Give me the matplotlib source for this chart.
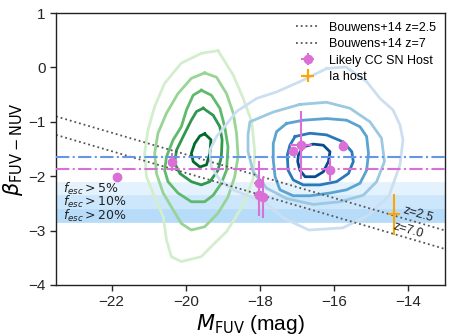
"""UV slope vs FUV magnitude: host galaxies over field-galaxy density contours."""
import numpy as np
import matplotlib
matplotlib.use("Agg")
import matplotlib.pyplot as plt

plt.rcParams['font.family'] = ['Liberation Sans', 'DejaVu Sans']
plt.rcParams['mathtext.fontset'] = 'dejavusans'

# ---- data ----
# likely core-collapse SN hosts
cc_M = [-21.86, -20.37, -18.02, -18.02, -17.91, -17.10, -16.89, -16.11, -15.75]
cc_beta = [-2.01, -1.74, -2.12, -2.34, -2.39, -1.54, -1.43, -1.89, -1.44]
cc_Merr = [0.03, 0.09, 0.14, 0.14, 0.14, 0.04, 0.29, 0.05, 0.05]
cc_berr = [0.03, 0.17, 0.40, 0.40, 0.38, 0.04, 0.63, 0.20, 0.10]

# Ia host
ia_M = [-14.38]
ia_beta = [-2.70]
ia_Merr = [0.14]
ia_berr = [0.38]

# Bouwens+14 beta-M relations: slope, beta at M=-19.5
bouwens_labels = ["Bouwens+14 z=2.5", "Bouwens+14 z=7"]
bouwens_tags = ["z=2.5", "z=7.0"]
bouwens_tag_M = [-14.17, -14.45]
bouwens_slope = [-0.20, -0.20]
bouwens_b0 = [-1.70, -2.04]

# horizontal reference levels
beta_blue = -1.64
beta_pink = -1.86

# escape-fraction bands: lower edge shared, upper edges
fesc_bottom = -2.84
fesc_tops = [-2.11, -2.35, -2.60]
fesc_labels = [r"$f_{esc}>5\%$", r"$f_{esc}>10\%$", r"$f_{esc}>20\%$"]

# density contours (outer -> inner), vertices
green_M = [
    [-19.13, -18.72, -18.45, -18.22, -18.14, -18.18, -18.45, -18.90, -19.22, -19.58,
     -20.12, -20.39, -20.52, -20.61, -20.84, -21.06, -21.11, -21.02, -20.84, -20.57,
     -20.12, -19.58],
    [-19.49, -19.17, -18.90, -18.72, -18.63, -18.59, -18.68, -18.86, -19.13, -19.49,
     -19.85, -20.12, -20.34, -20.61, -20.79, -20.84, -20.75, -20.52, -20.21, -19.85],
    [-19.58, -19.31, -19.08, -18.95, -18.86, -18.90, -19.04, -19.26, -19.49, -19.85,
     -20.21, -20.48, -20.57, -20.52, -20.34, -20.12, -19.98, -19.80],
    [-19.53, -19.26, -19.08, -19.02, -19.04, -19.13, -19.35, -19.58, -19.85, -20.16,
     -20.30, -20.25, -20.07, -19.85, -19.71],
    [-19.49, -19.32, -19.35, -19.44, -19.62, -19.80, -19.85, -19.76, -19.62],
]
green_beta = [
    [0.31, -0.14, -0.57, -1.00, -1.55, -2.04, -2.53, -3.02, -3.23, -3.48,
     -3.57, -3.48, -3.17, -2.74, -2.38, -2.01, -1.58, -1.15, -0.72, -0.29,
     0.08, 0.26],
    [-0.10, -0.18, -0.48, -0.84, -1.21, -1.64, -2.01, -2.38, -2.68, -2.93,
     -2.99, -2.87, -2.62, -2.31, -1.95, -1.58, -1.21, -0.84, -0.48, -0.20],
    [-0.42, -0.51, -0.75, -1.09, -1.46, -1.89, -2.13, -2.35, -2.47, -2.47,
     -2.31, -2.10, -1.89, -1.64, -1.33, -1.09, -0.78, -0.51],
    [-0.75, -0.88, -1.09, -1.33, -1.64, -1.89, -2.10, -2.16, -2.10, -1.95,
     -1.76, -1.52, -1.27, -0.97, -0.81],
    [-1.22, -1.33, -1.58, -1.79, -1.83, -1.73, -1.58, -1.40, -1.26],
]
blue_M = [
    [-16.20, -15.68, -15.12, -14.76, -14.41, -14.22, -14.14, -14.22, -14.32, -14.51,
     -15.05, -15.76, -16.68, -17.37, -17.92, -18.32, -18.72, -19.08, -19.31, -19.35,
     -19.17, -18.99, -18.63, -18.09, -17.55, -16.92],
    [-16.92, -16.20, -15.57, -15.03, -14.72, -14.64, -14.85, -15.21, -15.84, -16.56,
     -17.28, -17.82, -18.18, -18.32, -18.32, -18.27, -17.64],
    [-17.28, -16.83, -16.20, -15.66, -15.30, -15.12, -15.07, -15.12, -15.30, -15.66,
     -16.11, -16.65, -17.10, -17.46, -17.59, -17.64, -17.64, -17.55],
    [-17.05, -16.65, -16.20, -15.75, -15.52, -15.48, -15.61, -15.93, -16.38, -16.83,
     -17.10, -17.24, -17.26, -17.19],
    [-16.83, -16.56, -16.29, -16.11, -16.15, -16.29, -16.51, -16.78, -16.92, -16.98,
     -16.96],
]
blue_beta = [
    [-0.02, 0.01, -0.26, -0.57, -0.78, -1.06, -1.33, -1.79, -1.98, -2.35,
     -2.71, -2.95, -2.99, -2.77, -2.46, -2.36, -2.25, -2.07, -1.83, -1.52,
     -1.27, -1.12, -0.81, -0.57, -0.45, -0.26],
    [-0.68, -0.64, -0.75, -1.00, -1.30, -1.73, -2.10, -2.35, -2.47, -2.52,
     -2.41, -2.22, -1.92, -1.55, -1.24, -1.00, -0.82],
    [-1.03, -0.97, -0.94, -0.97, -1.09, -1.27, -1.58, -1.89, -2.13, -2.25,
     -2.31, -2.36, -2.36, -2.25, -2.01, -1.70, -1.40, -1.18],
    [-1.27, -1.21, -1.24, -1.37, -1.55, -1.73, -1.95, -2.10, -2.16, -2.16,
     -2.07, -1.89, -1.61, -1.43],
    [-1.46, -1.41, -1.43, -1.55, -1.73, -1.92, -2.01, -2.01, -1.89, -1.73,
     -1.61],
]
green_levels = [0.2, 0.4, 0.55, 0.7, 0.88]
blue_levels = [0.22, 0.38, 0.55, 0.72, 0.9]


def _closed(a):
    a = np.asarray(a, dtype=float)
    return np.append(a, a[0])


def main():
    fig = plt.figure(figsize=(4.52, 3.36), dpi=100)
    ax = fig.add_axes([0.124, 0.152, 0.861, 0.809])

    # f_esc bands, stacked
    for top in fesc_tops:
        ax.axhspan(fesc_bottom, top, facecolor='#2196f3', alpha=0.12,
                   edgecolor='#90caf9', lw=0.6, zorder=0)
    for top, lab in zip(fesc_tops, fesc_labels):
        ax.text(-23.32, top - 0.125, lab, ha='left', va='center',
                fontsize=9, color='#222222', zorder=6)

    # density contours
    for Ms, bs, lv in zip(green_M, green_beta, green_levels):
        ax.plot(_closed(Ms), _closed(bs), color=plt.cm.Greens(lv), lw=2.0,
                solid_joinstyle='round', zorder=1)
    for Ms, bs, lv in zip(blue_M, blue_beta, blue_levels):
        ax.plot(_closed(Ms), _closed(bs), color=plt.cm.Blues(lv), lw=2.0,
                solid_joinstyle='round', zorder=1)

    # Bouwens+14 relations
    xx = np.array([-23.5, -13.0])
    for lab, s, b0 in zip(bouwens_labels, bouwens_slope, bouwens_b0):
        ax.plot(xx, s * (xx + 19.5) + b0, ls=':', color='#555555', lw=1.3,
                label=lab, zorder=2)
    for tag, m, s, b0 in zip(bouwens_tags, bouwens_tag_M, bouwens_slope, bouwens_b0):
        ax.text(m, s * (m + 19.5) + b0 + 0.03, tag, rotation=-16, fontsize=9,
                ha='left', va='bottom', color='#222222', rotation_mode='anchor',
                zorder=6)

    ax.axhline(beta_blue, color='cornflowerblue', ls='-.', lw=1.5, zorder=3)
    ax.axhline(beta_pink, color='orchid', ls='-.', lw=1.5, zorder=3)

    ax.errorbar(cc_M, cc_beta, xerr=cc_Merr, yerr=cc_berr, fmt='o', color='orchid',
                ms=6, elinewidth=1.5, capsize=0, label='Likely CC SN Host', zorder=5)
    ax.errorbar(ia_M, ia_beta, xerr=ia_Merr, yerr=ia_berr, fmt='+', color='orange',
                ms=9, mew=1.5, elinewidth=1.5, capsize=0, label='Ia host', zorder=5)

    ax.set_xlim(-23.5, -13.0)
    ax.set_ylim(-4, 1)
    ax.set_xticks([-22, -20, -18, -16, -14])
    ax.set_yticks([1, 0, -1, -2, -3, -4])
    ax.tick_params(labelsize=11, length=4, width=1, direction='out',
                   colors='#262626', labelcolor='#262626')
    for sp in ax.spines.values():
        sp.set_color('#222222')
        sp.set_linewidth(1.0)
    ax.set_xlabel(r"$M_{\rm FUV}$ (mag)", fontsize=15, labelpad=2)
    ax.set_ylabel(r"$\beta_{\rm FUV-NUV}$", fontsize=15, labelpad=2)

    ax.legend(loc='upper right', frameon=False, fontsize=9, handlelength=1.9,
              borderaxespad=0.3, labelspacing=0.35)

    fig.savefig("out.png", dpi=100)


if __name__ == "__main__":
    main()
